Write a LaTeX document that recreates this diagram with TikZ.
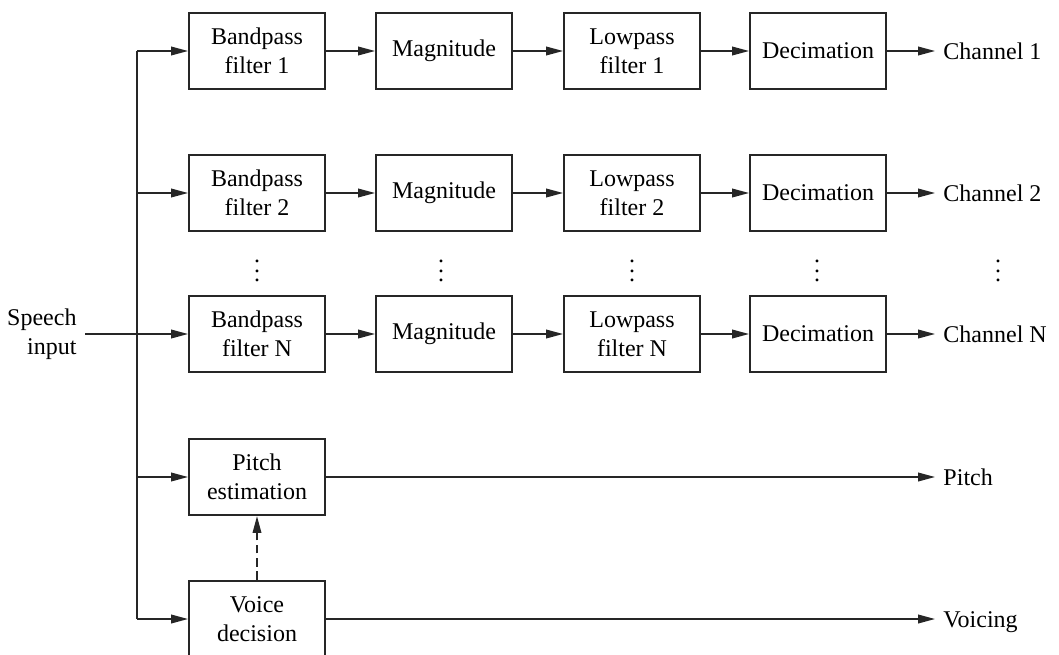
\documentclass[tikz,border=0pt]{standalone}
\usepackage{fontspec}
\setmainfont{Liberation Serif}
\usetikzlibrary{arrows.meta}

\begin{document}
\begin{tikzpicture}[x=0.4167pt, y=-0.4167pt,
    font=\fontsize{10}{12}\selectfont,
    block/.style={draw=black!85, line width=0.8pt, minimum width=56.7pt,
                  minimum height=31.8pt, align=center, inner sep=0pt},
    output/.style={anchor=west, text height=6.8pt, text depth=0pt},
    wire/.style={draw=black!85, line width=0.6pt},
    arr/.style={wire, -{Triangle[length=7pt, width=3.6pt]}}]
    \useasboundingbox (0, 0) rectangle (1059, 655);

    \node [block] (bp1)  at (257, 51) {Bandpass\\filter 1};
    \node [block] (mag1) at (444, 51) {Magnitude};
    \node [block] (lp1)  at (632, 51) {Lowpass\\filter 1};
    \node [block] (dec1) at (818, 51) {Decimation};
    \node [output] (ch1) at (935, 51) {Channel 1};

    \node [block] (bp2)  at (257, 193) {Bandpass\\filter 2};
    \node [block] (mag2) at (444, 193) {Magnitude};
    \node [block] (lp2)  at (632, 193) {Lowpass\\filter 2};
    \node [block] (dec2) at (818, 193) {Decimation};
    \node [output] (ch2) at (935, 193) {Channel 2};

    \node [] (dotbp)  at (257, 264) {$\vdots$};
    \node [] (dotmag) at (441, 264) {$\vdots$};
    \node [] (dotlp)  at (632, 264) {$\vdots$};
    \node [] (dotdec) at (817, 264) {$\vdots$};
    \node [] (dotch)  at (998, 264) {$\vdots$};

    \node [block] (bpN)  at (257, 334) {Bandpass\\filter N};
    \node [block] (magN) at (444, 334) {Magnitude};
    \node [block] (lpN)  at (632, 334) {Lowpass\\filter N};
    \node [block] (decN) at (818, 334) {Decimation};
    \node [output] (chN) at (935, 334) {Channel N};

    \node [block] (pest) at (257, 477) {Pitch\\estimation};
    \node [output] (pitch) at (935, 477) {Pitch};
    \node [block] (vdec) at (257, 619) {Voice\\decision};
    \node [output] (voicing) at (935, 619) {Voicing};

    \node [anchor=east, align=right] (speech) at (85, 334) {Speech\\input};

    \coordinate (j1) at (137, 51);
    \coordinate (j2) at (137, 193);
    \coordinate (jN) at (137, 334);
    \coordinate (jp) at (137, 477);
    \coordinate (jv) at (137, 619);

    \draw [wire] (speech) -- (jN);
    \draw [wire] (j1) -- (jv);

    \draw [arr] (j1) -- (bp1);
    \draw [arr] (bp1) -- (mag1);
    \draw [arr] (mag1) -- (lp1);
    \draw [arr] (lp1) -- (dec1);
    \draw [arr] (dec1) -- (ch1);

    \draw [arr] (j2) -- (bp2);
    \draw [arr] (bp2) -- (mag2);
    \draw [arr] (mag2) -- (lp2);
    \draw [arr] (lp2) -- (dec2);
    \draw [arr] (dec2) -- (ch2);

    \draw [arr] (jN) -- (bpN);
    \draw [arr] (bpN) -- (magN);
    \draw [arr] (magN) -- (lpN);
    \draw [arr] (lpN) -- (decN);
    \draw [arr] (decN) -- (chN);

    \draw [arr] (jp) -- (pest);
    \draw [arr] (pest) -- (pitch);
    \draw [arr] (jv) -- (vdec);
    \draw [arr] (vdec) -- (voicing);
    \draw [arr, dash pattern=on 3.5pt off 2pt] (vdec) -- (pest);
  \end{tikzpicture}
\end{document}
